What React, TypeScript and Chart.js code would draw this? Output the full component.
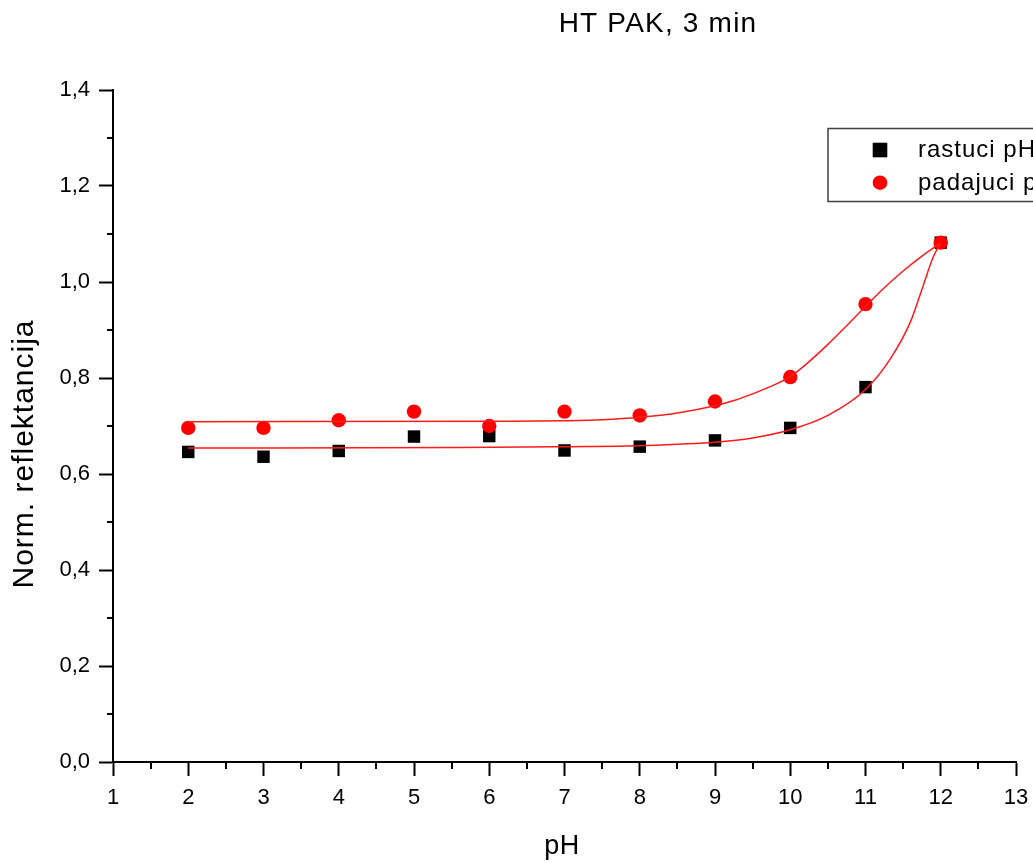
import { useEffect, useRef } from 'react';
import { Chart, registerables } from 'chart.js';

Chart.register(...registerables);

// ---- data ----
const pH = [2, 3, 4, 5, 6, 7, 8, 9, 10, 11, 12];
const rastuci = [0.646, 0.636, 0.648, 0.678, 0.679, 0.649, 0.657, 0.670, 0.696, 0.781, 1.082];
const padajuci = [0.696, 0.696, 0.712, 0.730, 0.700, 0.730, 0.722, 0.751, 0.802, 0.954, 1.082];

const rastuciFitX = [2, 5.6, 7, 8, 8.5, 9, 9.5, 10, 10.5, 11, 11.33, 11.6, 11.77, 11.9, 12];
const rastuciFitY = [0.654, 0.655, 0.657, 0.659, 0.662, 0.666, 0.675, 0.692, 0.722, 0.776, 0.840, 0.918, 0.994, 1.052, 1.082];

const padajuciFitX = [2, 6.3, 7, 7.5, 8, 8.5, 9, 9.25, 9.5, 9.75, 10, 10.25, 10.5, 10.75, 11, 11.25, 11.5, 11.75, 12];
const padajuciFitY = [0.709, 0.710, 0.711, 0.713, 0.718, 0.727, 0.742, 0.753, 0.767, 0.783, 0.803, 0.834, 0.870, 0.909, 0.949, 0.988, 1.023, 1.054, 1.082];

const xTickLabels = ['1', '2', '3', '4', '5', '6', '7', '8', '9', '10', '11', '12', '13'];
const yTickLabels = ['0,0', '0,2', '0,4', '0,6', '0,8', '1,0', '1,2', '1,4'];
const xMinorTicks = [1.5, 2.5, 3.5, 4.5, 5.5, 6.5, 7.5, 8.5, 9.5, 10.5, 11.5, 12.5];
const yMinorTicks = [0.1, 0.3, 0.5, 0.7, 0.9, 1.1, 1.3];

const titleText = 'HT PAK, 3 min';
const xTitle = 'pH';
const yTitle = 'Norm. reflektancija';
const legendLabels = ['rastuci pH', 'padajuci pH'];

const FONT = "'Liberation Sans', Arial, sans-serif";

const decorPlugin = {
  id: 'decor',
  afterDraw(chart: any) {
    const ctx = chart.ctx as CanvasRenderingContext2D;
    const xs = chart.scales.x;
    const ys = chart.scales.y;
    const area = chart.chartArea;
    ctx.save();
    // minor ticks
    ctx.strokeStyle = '#000';
    ctx.lineWidth = 2;
    ctx.beginPath();
    for (const v of xMinorTicks) {
      const px = Math.round(xs.getPixelForValue(v));
      ctx.moveTo(px, area.bottom);
      ctx.lineTo(px, area.bottom + 7);
    }
    for (const v of yMinorTicks) {
      const py = Math.round(ys.getPixelForValue(v));
      ctx.moveTo(area.left, py);
      ctx.lineTo(area.left - 6, py);
    }
    ctx.stroke();

    ctx.fillStyle = '#000';
    // title
    (ctx as any).letterSpacing = '1.2px';
    ctx.font = `28px ${FONT}`;
    ctx.textAlign = 'center';
    ctx.textBaseline = 'alphabetic';
    ctx.fillText(titleText, 658, 32);
    // x title
    (ctx as any).letterSpacing = '0.5px';
    ctx.font = `27px ${FONT}`;
    ctx.fillText(xTitle, 562, 854);
    // y title
    (ctx as any).letterSpacing = '1px';
    ctx.save();
    ctx.translate(33, 454);
    ctx.rotate(-Math.PI / 2);
    ctx.font = `30px ${FONT}`;
    ctx.fillText(yTitle, 0, 0);
    ctx.restore();

    // legend
    ctx.strokeStyle = '#404040';
    ctx.lineWidth = 1.5;
    ctx.strokeRect(828, 128.5, 240, 73);
    ctx.fillStyle = '#000';
    ctx.fillRect(880 - 7.3, 150 - 7.3, 14.6, 14.6);
    ctx.fillStyle = '#ff0000';
    ctx.beginPath();
    ctx.arc(880, 182.7, 7.3, 0, Math.PI * 2);
    ctx.fill();
    ctx.fillStyle = '#000';
    ctx.textAlign = 'left';
    (ctx as any).letterSpacing = '1px';
    ctx.font = `24px ${FONT}`;
    ctx.fillText(legendLabels[0], 918, 157);
    ctx.fillText(legendLabels[1], 918, 190);
    ctx.restore();
  },
};

export default function App() {
  const ref = useRef<HTMLCanvasElement | null>(null);
  useEffect(() => {
    const canvas = ref.current;
    if (!canvas) return;
    const chart = new Chart(canvas, {
      type: 'scatter',
      data: {
        datasets: [
          {
            label: 'rastuci fit',
            type: 'line',
            data: rastuciFitX.map((x, i) => ({ x, y: rastuciFitY[i] })),
            borderColor: '#ff1a1a',
            borderWidth: 1.5,
            pointRadius: 0,
            cubicInterpolationMode: 'monotone',
            fill: false,
            order: 0,
          },
          {
            label: 'padajuci fit',
            type: 'line',
            data: padajuciFitX.map((x, i) => ({ x, y: padajuciFitY[i] })),
            borderColor: '#ff1a1a',
            borderWidth: 1.5,
            pointRadius: 0,
            cubicInterpolationMode: 'monotone',
            fill: false,
            order: 0,
          },
          {
            label: legendLabels[1],
            data: pH.map((x, i) => ({ x, y: padajuci[i] })),
            pointStyle: 'circle',
            pointRadius: 7.2,
            backgroundColor: '#ff0000',
            borderColor: '#ff0000',
            borderWidth: 0,
            order: 1,
          },
          {
            label: legendLabels[0],
            data: pH.map((x, i) => ({ x, y: rastuci[i] })),
            pointStyle: 'rect',
            pointRadius: 8.8,
            backgroundColor: '#000',
            borderColor: '#000',
            borderWidth: 0,
            order: 2,
          },
        ],
      },
      options: {
        animation: false,
        responsive: false,
        events: [],
        layout: { padding: { left: 0, top: 90, right: 17, bottom: 0 } },
        plugins: {
          legend: { display: false },
          title: { display: false },
          tooltip: { enabled: false },
        },
        scales: {
          x: {
            type: 'linear',
            min: 1,
            max: 13,
            afterFit(scale: any) {
              scale.height = 101;
              scale.paddingLeft = 0;
              scale.paddingRight = 0;
            },
            ticks: {
              stepSize: 1,
              color: '#000',
              padding: 9,
              font: { family: FONT, size: 22 },
              callback: (_v: any, i: number) => xTickLabels[i],
              maxRotation: 0,
              autoSkip: false,
            },
            grid: {
              drawOnChartArea: false,
              drawTicks: true,
              tickLength: 14,
              tickWidth: 2,
              tickColor: '#000',
            },
            border: { display: true, color: '#000', width: 2 },
          },
          y: {
            type: 'linear',
            min: 0,
            max: 1.4,
            afterFit(scale: any) {
              scale.width = 113;
              scale.paddingTop = 0;
              scale.paddingBottom = 0;
            },
            ticks: {
              stepSize: 0.2,
              color: '#000',
              padding: 9,
              font: { family: FONT, size: 22 },
              callback: (_v: any, i: number) => yTickLabels[i],
              autoSkip: false,
            },
            grid: {
              drawOnChartArea: false,
              drawTicks: true,
              tickLength: 14,
              tickWidth: 2,
              tickColor: '#000',
            },
            border: { display: true, color: '#000', width: 2 },
          },
        },
      },
      plugins: [decorPlugin],
    });
    return () => chart.destroy();
  }, []);
  return (
    <div style={{ position: 'fixed', left: 0, top: 0, width: 1033, height: 863, background: '#fff' }}>
      <canvas ref={ref} width={1033} height={863} style={{ width: 1033, height: 863, display: 'block' }} />
    </div>
  );
}
